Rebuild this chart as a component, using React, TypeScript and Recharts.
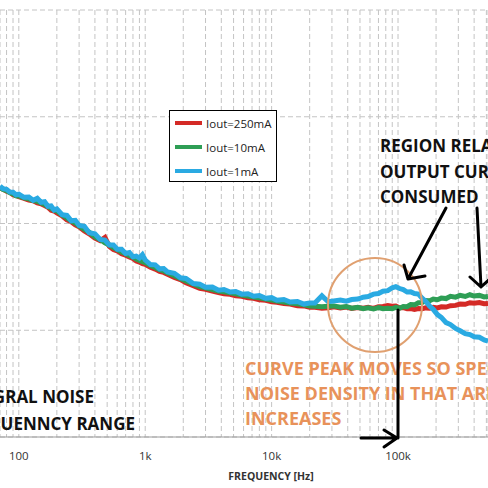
import React from 'react';
import { LineChart, Line, XAxis, YAxis, CartesianGrid, Legend } from 'recharts';

// frequency points [Hz] shared by the three traces
const freqHz = [
  71, 75, 80, 85, 90, 95, 100, 110, 120, 130,
  140, 150, 160, 170, 180, 190, 200, 220, 240, 260,
  280, 300, 330, 360, 400, 440, 480, 520, 560, 600,
  650, 700, 750, 800, 850, 900, 950, 1000, 1100, 1200,
  1300, 1400, 1500, 1700, 1900, 2100, 2400, 2700, 3000, 3400,
  3800, 4200, 4700, 5200, 5800, 6500, 7200, 8000, 9000, 10000,
  11000, 12500, 14000, 16000, 18000, 20000, 22000, 25000, 28000, 31000,
  35000, 39000, 43000, 48000, 53000, 58000, 64000, 70000, 76000, 83000,
  90000, 96000, 103000, 110000, 118000, 126000, 135000, 145000, 155000, 166000,
  178000, 190000, 205000, 220000, 240000, 260000, 285000, 310000, 340000, 370000,
  400000, 440000, 480000, 515000,
];

// noise density, Iout = 250mA
const iout250 = [
  216, 210, 201, 196, 186, 183, 178, 172, 166, 163,
  156, 153, 147, 142, 133, 131, 126, 118, 108, 104,
  97, 93, 85, 80, 73, 69, 74, 61, 57, 55.5,
  52, 50.5, 48.5, 47, 44.5, 43.5, 42, 41.5, 39, 37.4,
  35.6, 34.8, 33.5, 31.3, 29.8, 27.9, 26.2, 24.7, 24.2, 23.3,
  22.5, 22.0, 21.7, 21.0, 20.8, 20.1, 19.9, 19.3, 19.1, 18.5,
  18.3, 17.8, 17.6, 17.0, 16.9, 16.4, 16.4, 16.1, 16.2, 16.6,
  16.2, 16.5, 16.0, 16.3, 16.1, 16.4, 16.0, 16.6, 16.7, 17.0,
  16.8, 16.9, 16.2, 16.3, 15.9, 16.0, 15.7, 16.0, 15.9, 16.2,
  16.1, 16.4, 16.2, 16.6, 16.5, 17.0, 17.1, 17.6, 17.5, 18.1,
  17.9, 18.2, 17.7, 17.8,
];

// noise density, Iout = 10mA
const iout10 = [
  218, 208, 203, 194, 190, 182, 181, 174, 170, 164,
  161, 156, 151, 144, 139, 133, 131, 120, 113, 106,
  101, 95, 88, 83, 75, 71, 66, 63, 59.5, 57,
  54, 52, 50, 48.5, 46.5, 45, 44, 43, 40.5, 38.8,
  37, 35.9, 34.6, 32.5, 30.6, 28.9, 27.1, 25.7, 25.0, 24.1,
  23.3, 22.9, 22.4, 21.9, 21.4, 20.9, 20.5, 20.1, 19.6, 19.2,
  18.8, 18.4, 18.0, 17.7, 17.3, 16.9, 16.8, 16.6, 16.8, 16.9,
  16.4, 16.7, 16.1, 16.4, 15.9, 16.2, 15.8, 16.3, 15.9, 16.1,
  15.9, 16.4, 16.1, 16.7, 16.6, 17.4, 17.3, 18.1, 18.2, 19.0,
  18.9, 19.6, 19.3, 20.0, 19.8, 20.8, 20.4, 21.2, 20.7, 21.5,
  20.9, 21.2, 20.5, 20.7,
];

// noise density, Iout = 1mA
const iout1 = [
  224, 212, 209, 197, 196, 186, 188, 176, 177, 165,
  172, 158, 160, 145, 146, 134, 137, 121, 119, 106,
  107, 96, 94, 82, 80, 71, 70, 63, 63, 57.5,
  57.5, 52.5, 53.5, 48.8, 49.5, 47.5, 51, 45.5, 41.2, 41,
  37.6, 37.8, 35.2, 34.2, 31.0, 30.6, 27.4, 27.0, 25.3, 25.4,
  23.7, 24.1, 22.8, 23.1, 21.8, 22.0, 20.8, 21.1, 19.9, 20.2,
  19.1, 19.4, 18.4, 18.6, 17.6, 18.0, 18.0, 21.0, 18.5, 18.8,
  19.2, 18.7, 19.4, 19.6, 20.4, 20.7, 21.8, 22.1, 23.2, 23.5,
  25.0, 25.6, 24.6, 24.0, 22.8, 22.9, 22.1, 21.8, 20.0, 18.6,
  16.8, 15.7, 14.0, 13.2, 11.8, 11.3, 10.4, 9.9, 9.3, 9.1,
  8.7, 8.6, 8.1, 7.9,
];

// vertical grid (log minor) and labelled decades
const gridTicks = [
  80, 90, 100, 200, 300, 400, 500, 600, 700, 800, 900,
  1000, 2000, 3000, 4000, 5000, 6000, 7000, 8000, 9000,
  10000, 20000, 30000, 40000, 50000, 60000, 70000, 80000, 90000,
  100000, 200000, 300000, 400000, 500000,
];
const labelTicks = [100, 1000, 10000, 100000];
const labelText = ['100', '1k', '10k', '100k'];
const yTicks = [1, 10, 100, 1000, 10000];

const series = [
  { key: 'i250', name: 'Iout=250mA', color: '#d42a26' },
  { key: 'i10', name: 'Iout=10mA', color: '#2e9e55' },
  { key: 'i1', name: 'Iout=1mA', color: '#2aaae2' },
];

const rows = freqHz.map((f, i) => ({ f, i250: iout250[i], i10: iout10[i], i1: iout1[i] }));

const font = '"Open Sans", sans-serif';

const fmtTick = (v: number) => {
  const idx = labelTicks.indexOf(v);
  return idx >= 0 ? labelText[idx] : '';
};

function LegendBox() {
  return (
    <div style={{ width: 106, height: 70, border: '1.5px solid #000', background: '#fff', position: 'relative', fontFamily: font, fontSize: 11.5, color: '#222' }}>
      {series.map((s, i) => (
        <div key={s.key} style={{ position: 'absolute', left: 5, top: 4 + i * 24, height: 16, display: 'flex', alignItems: 'center' }}>
          <div style={{ width: 27, height: 4, background: s.color, marginRight: 4 }} />
          <span>{s.name}</span>
        </div>
      ))}
    </div>
  );
}

function Notes() {
  const orange = '#e8925a';
  return (
    <svg width={488} height={488} style={{ position: 'absolute', left: 0, top: 0, pointerEvents: 'none' }}>
      <circle cx={375} cy={305} r={47} fill="none" stroke="#e0a070" strokeWidth={2} />
      <g fontFamily={font} fontWeight={700} fontSize={17} fill="#111">
        <text x={380} y={152}>REGION RELATED TO</text>
        <text x={380} y={178}>OUTPUT CURRENT</text>
        <text x={380} y={203}>CONSUMED</text>
        <text x={94} y={403} textAnchor="end">INTEGRAL NOISE</text>
        <text x={135} y={430} textAnchor="end">FREQUENNCY RANGE</text>
      </g>
      <g fontFamily={font} fontWeight={700} fontSize={18} fill={orange}>
        <text x={245} y={375}>CURVE PEAK MOVES SO SPECTRAL</text>
        <text x={245} y={400}>NOISE DENSITY IN THAT AREA</text>
        <text x={245} y={425}>INCREASES</text>
      </g>
      <text x={271} y={480} textAnchor="middle" fontFamily={font} fontWeight={700} fontSize={10.5} fill="#333">
        FREQUENCY [Hz]
      </text>
      <g stroke="#000" strokeWidth={3} fill="none" strokeLinecap="round">
        <path d="M446 208 L408 279 M408 279 L425 276 M408 279 L404 265" />
        <path d="M477 208 L481 287 M481 287 L470 277 M481 287 L492 277" />
        <path d="M398 310 L398 438 M361 438 L397 438 M397 438 L384 430 M397 438 L384 447" />
      </g>
    </svg>
  );
}

export default function App() {
  return (
    <div style={{ position: 'absolute', left: 0, top: 0, width: 488, height: 488, overflow: 'hidden', background: '#fff' }}>
      <LineChart width={488} height={488} data={rows} margin={{ top: 10, right: 0, left: 0, bottom: 0 }}>
        <CartesianGrid stroke="#c4c4c4" strokeDasharray="5 3" />
        <XAxis
          dataKey="f"
          type="number"
          scale="log"
          domain={[71, 515000]}
          allowDataOverflow
          ticks={gridTicks}
          interval={0}
          tickFormatter={fmtTick}
          tickLine={false}
          tickMargin={9}
          axisLine={{ stroke: '#999' }}
          height={51}
          tick={{ fontSize: 11.5, fill: '#333', fontFamily: font }}
        />
        <YAxis hide type="number" scale="log" domain={[1, 10000]} ticks={yTicks} allowDataOverflow />
        <Legend
          layout="vertical"
          align="center"
          verticalAlign="middle"
          content={() => <LegendBox />}
          wrapperStyle={{ left: 169, top: 110, width: 108, height: 72 }}
        />
        {series.map((s) => (
          <Line
            key={s.key}
            type="linear"
            dataKey={s.key}
            name={s.name}
            stroke={s.color}
            strokeWidth={5}
            dot={false}
            isAnimationActive={false}
          />
        ))}
      </LineChart>
      <Notes />
    </div>
  );
}
